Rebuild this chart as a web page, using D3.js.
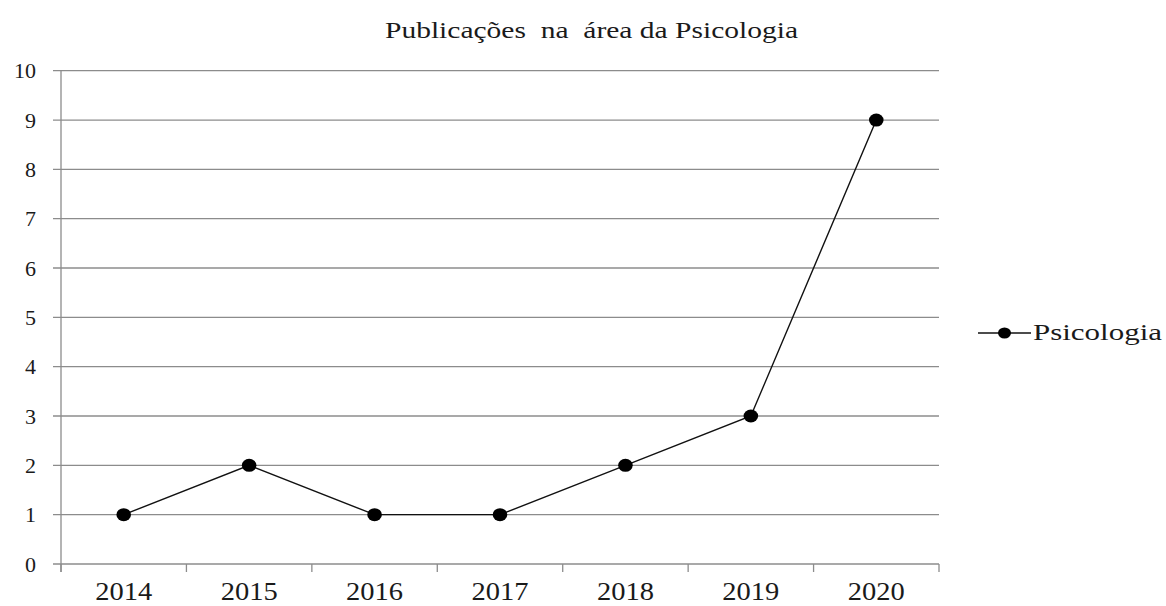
<!DOCTYPE html>
<html><head><meta charset="utf-8">
<script src="https://cdn.jsdelivr.net/npm/d3@7"></script>
<style>body{margin:0;background:#fff}svg{display:block}text{font-family:"Times New Roman",Tinos,"Liberation Serif",serif;fill:#1a1a1a}</style>
</head><body>
<svg id="c" width="1166" height="606"></svg>
<script>
const years = ["2014","2015","2016","2017","2018","2019","2020"];
const values = [1,2,1,1,2,3,9];
const yTicks = [0,1,2,3,4,5,6,7,8,9,10];
const seriesName = "Psicologia";
const title = "Publicações\u00a0 na\u00a0 área da Psicologia";

const svg = d3.select("#c");
const L = 61, R = 939, T = 70.7, B = 564;
const x = d3.scaleBand().domain(years).range([L, R]).padding(0);
const y = d3.scaleLinear().domain([0, 10]).range([B, T]);
const grid = "#8c8c8c";

svg.append("g").selectAll("line").data(yTicks).join("line")
  .attr("x1", L - 8).attr("x2", R).attr("y1", d => y(d)).attr("y2", d => y(d))
  .attr("stroke", grid).attr("stroke-width", 1.3);
svg.append("line").attr("x1", L).attr("x2", L).attr("y1", T).attr("y2", B + 8)
  .attr("stroke", grid).attr("stroke-width", 1.3);
const bounds = years.map(d => x(d)).concat([x(years[years.length-1]) + x.bandwidth()]);
svg.append("g").selectAll("line").data(bounds).join("line")
  .attr("x1", d => d).attr("x2", d => d).attr("y1", B).attr("y2", B + 8)
  .attr("stroke", grid).attr("stroke-width", 1.3);

svg.append("g").selectAll("text").data(yTicks).join("text")
  .attr("x", 36).attr("y", d => y(d) + 7.5).attr("text-anchor", "end")
  .attr("font-size", 22).text(d => d);
svg.append("g").selectAll("text").data(years).join("text")
  .attr("x", d => x(d) + x.bandwidth()/2).attr("y", 600).attr("text-anchor", "middle")
  .attr("font-size", 25).attr("textLength", 57).attr("lengthAdjust", "spacingAndGlyphs")
  .text(d => d);

svg.append("text").attr("x", 591.5).attr("y", 38).attr("text-anchor", "middle")
  .attr("font-size", 22.5).attr("textLength", 413).attr("lengthAdjust", "spacingAndGlyphs")
  .text(title);

const pts = years.map((d, i) => [x(d) + x.bandwidth()/2, y(values[i])]);
svg.append("path").attr("d", d3.line()(pts)).attr("fill", "none")
  .attr("stroke", "#111").attr("stroke-width", 1.4);
svg.append("g").selectAll("ellipse").data(pts).join("ellipse")
  .attr("cx", d => d[0]).attr("cy", d => d[1]).attr("rx", 7.3).attr("ry", 6.5).attr("fill", "#000");

const lg = svg.append("g");
lg.append("line").attr("x1", 978).attr("x2", 1031).attr("y1", 333).attr("y2", 333)
  .attr("stroke", "#111").attr("stroke-width", 1.4);
lg.append("ellipse").attr("cx", 1004.5).attr("cy", 333).attr("rx", 6.5).attr("ry", 5.5).attr("fill", "#000");
lg.append("text").attr("x", 1033).attr("y", 340).attr("font-size", 22.5)
  .attr("textLength", 129).attr("lengthAdjust", "spacingAndGlyphs").text(seriesName);
</script>
</body></html>
